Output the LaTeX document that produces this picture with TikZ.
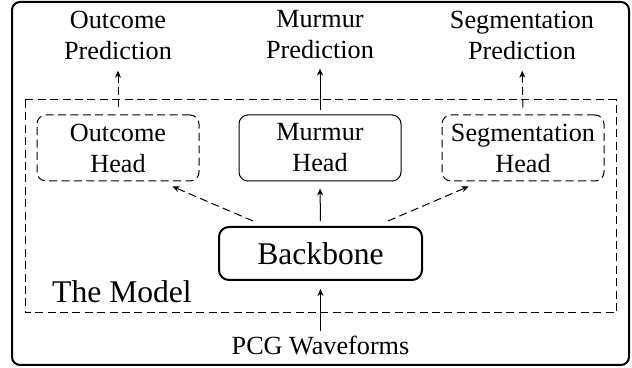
\documentclass[tikz,border=0pt]{standalone}
\usepackage{fontspec}
\setmainfont{Liberation Serif}
\usetikzlibrary{arrows.meta,calc}
\begin{document}
\begin{tikzpicture}[x=0.5pt,y=-0.5pt,
  txt/.style={font=\fontsize{13.1}{15.5}\selectfont, align=center, inner sep=0pt},
  headbox/.style={txt, draw, line width=0.5pt, rounded corners=4.5pt, minimum width=81pt, minimum height=33pt},
  dashbox/.style={dash pattern=on 4pt off 2.2pt},
  arr/.style={line width=0.5pt, -{Stealth[length=3.5pt,width=3pt]}},
]
\useasboundingbox (0,0) rectangle (632,368);
\draw[line width=1pt, rounded corners=4pt] (12,2) rectangle (629,365);
\draw[line width=0.5pt, dashbox] (25,100) rectangle (616,313);
\node[font=\fontsize{15.8}{18}\selectfont, inner sep=0pt, anchor=base] (model) at (122,303) {The Model};

\node[headbox, dashbox] (oh) at (118,148) {Outcome\\Head};
\node[headbox] (mh) at (320,148) {Murmur\\Head};
\node[headbox, dashbox] (sh) at (523,148) {Segmentation\\Head};

\node[txt] (op) at (118,35) {Outcome\\Prediction};
\node[txt] (mp) at (320,35) {Murmur\\Prediction};
\node[txt] (sp) at (522,35) {Segmentation\\Prediction};

\node[font=\fontsize{15.8}{18}\selectfont, draw, line width=1pt, rounded corners=5pt, minimum width=101.5pt, minimum height=26.5pt, inner sep=0pt] (bb) at (320.5,253.5) {Backbone};

\node[txt, anchor=base] (pcg) at (320.5,355) {PCG Waveforms};

\draw[arr, dashbox, shorten <=3.5pt, shorten >=5.5pt] (oh.north) -- (op.south);
\draw[arr, shorten <=2pt, shorten >=4.5pt] (mh.north) -- (mp.south);
\draw[arr, dashbox, shorten <=3.5pt, shorten >=5.5pt] (sh.north) -- (sp.south);

\draw[arr, shorten <=2.5pt, shorten >=3.5pt] (bb.north) -- (mh.south);
\draw[arr, dashbox] ($(bb.north west)+(35,-5)$) -- ($(oh.south east)+(-27,5)$);
\draw[arr, dashbox] ($(bb.north east)+(-35,-5)$) -- ($(sh.south west)+(27,5)$);
\draw[arr, shorten >=4pt] ($(pcg.north)+(0,-5)$) -- (bb.south);
\end{tikzpicture}
\end{document}
